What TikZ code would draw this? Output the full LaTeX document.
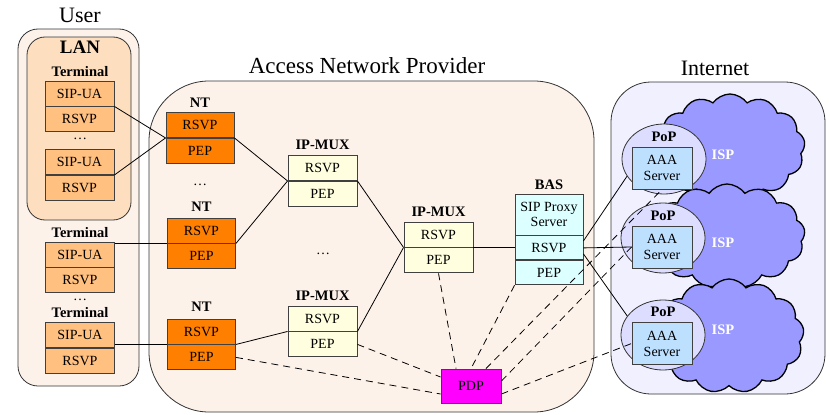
\documentclass[tikz,border=0pt]{standalone}
\usepackage{fontspec}
\setmainfont{Liberation Serif}
\usetikzlibrary{shapes.symbols,shapes.geometric,calc}

\definecolor{framefill}{RGB}{253,242,234}
\definecolor{lanfill}{RGB}{253,223,192}
\definecolor{termfill}{RGB}{255,192,128}
\definecolor{ntfill}{RGB}{255,128,0}
\definecolor{muxfill}{RGB}{255,255,224}
\definecolor{basfill}{RGB}{220,255,255}
\definecolor{pdpfill}{RGB}{255,0,255}
\definecolor{netfill}{RGB}{240,240,255}
\definecolor{ispfill}{RGB}{153,153,255}
\definecolor{popfill}{RGB}{221,221,255}
\definecolor{aaafill}{RGB}{190,224,255}
\definecolor{edge}{RGB}{64,64,64}

\newcommand\cellsize{\fontsize{14}{16}\selectfont}
\newcommand\tagsize{\fontsize{14.5}{16}\selectfont\bfseries}
\newcommand\titlesize{\fontsize{22}{25}\selectfont}

\tikzset{
  frame/.style={draw=black!80, line width=0.8pt, fill=framefill},
  cell/.style={draw=edge, line width=0.9pt, minimum height=25pt, inner sep=0pt, font=\cellsize},
  termcell/.style={cell, fill=termfill, minimum width=69pt},
  ntcell/.style={cell, fill=ntfill, minimum width=68pt},
  muxcell/.style={cell, fill=muxfill, minimum width=69pt},
  bascell/.style={cell, fill=basfill, minimum width=68pt},
  tag/.style={font=\tagsize, inner sep=0pt},
  title/.style={font=\titlesize, inner sep=0pt},
  dots/.style={font=\cellsize, inner sep=0pt},
  isp/.style={cloud, cloud puffs=13, cloud puff arc=110, draw=black, line width=1.3pt, fill=ispfill, inner sep=0pt},
  pop/.style={ellipse, draw=black!80, line width=0.8pt, fill=popfill, minimum width=84pt, minimum height=70pt, inner sep=0pt},
  aaa/.style={cell, fill=aaafill, minimum width=60pt, minimum height=42pt, align=center},
  link/.style={draw=black, line width=0.8pt},
  signal/.style={draw=black, line width=0.8pt, dash pattern=on 7pt off 5pt}
}

\begin{document}
\begin{tikzpicture}[x=1pt,y=-1pt]
\useasboundingbox (0,0) rectangle (830,415);

% ---------- domains ----------
\draw[frame, rounded corners=20pt] (18,29) rectangle (139,386);
\draw[frame, fill=lanfill, rounded corners=18pt] (27,37) rectangle (131,220);
\draw[frame, rounded corners=60pt] (149,81) rectangle (594,412);
\draw[frame, fill=netfill, rounded corners=40pt] (611,82) rectangle (825,394);

\node[title] (usertitle) at (80,15) {User};
\node[title, font=\fontsize{23}{26}\selectfont] (antitle) at (367,66) {Access Network Provider};
\node[title] (nettitle) at (715,68) {Internet};
\node[font=\fontsize{19}{21}\selectfont\bfseries, inner sep=0pt] (lantitle) at (80,47) {LAN};

% ---------- terminals ----------
\node[tag] (term1) at (80,72) {Terminal};
\node[termcell] (su1) at (79.5,93.5) {SIP-UA};
\node[termcell, anchor=north] (rs1) at (su1.south) {RSVP};
\node[dots] (dt1) at (80,139) {\ldots};
\node[termcell] (su1b) at (79.5,162) {SIP-UA};
\node[termcell, anchor=north] (rs1b) at (su1b.south) {RSVP};

\node[tag] (term2) at (80,233) {Terminal};
\node[termcell] (su2) at (80,254.5) {SIP-UA};
\node[termcell, anchor=north] (rs2) at (su2.south) {RSVP};
\node[dots] (dt2) at (80,300) {\ldots};
\node[tag] (term3) at (80,313) {Terminal};
\node[termcell] (su3) at (80,335) {SIP-UA};
\node[termcell, anchor=north] (rs3) at (su3.south) {RSVP};

% ---------- network terminations ----------
\node[tag] (nt1) at (200,103) {NT};
\node[ntcell] (nt1rs) at (200,125) {RSVP};
\node[ntcell, anchor=north] (nt1pe) at (nt1rs.south) {PEP};
\node[dots] (dt3) at (200,185) {\ldots};
\node[tag] (nt2) at (201.5,207) {NT};
\node[ntcell] (nt2rs) at (201.5,230.5) {RSVP};
\node[ntcell, anchor=north] (nt2pe) at (nt2rs.south) {PEP};
\node[tag] (nt3) at (201.5,307) {NT};
\node[ntcell] (nt3rs) at (201.5,331.5) {RSVP};
\node[ntcell, anchor=north] (nt3pe) at (nt3rs.south) {PEP};

% ---------- multiplexers ----------
\node[tag] (mux1) at (322.5,145) {IP-MUX};
\node[muxcell] (mux1rs) at (322.5,168) {RSVP};
\node[muxcell, anchor=north] (mux1pe) at (mux1rs.south) {PEP};
\node[dots] (dt4) at (323,254) {\ldots};
\node[tag] (mux2) at (322.5,296) {IP-MUX};
\node[muxcell] (mux2rs) at (322.5,318.5) {RSVP};
\node[muxcell, anchor=north] (mux2pe) at (mux2rs.south) {PEP};
\node[tag] (mux3) at (438.5,212) {IP-MUX};
\node[muxcell] (mux3rs) at (438.5,234.5) {RSVP};
\node[muxcell, anchor=north] (mux3pe) at (mux3rs.south) {PEP};

% ---------- broadband access server ----------
\node[tag] (bas) at (549,185) {BAS};
\node[bascell, minimum height=41pt, align=center] (bassip) at (549,214.5) {SIP Proxy\\[-1pt]Server};
\node[bascell, anchor=north, minimum height=24pt] (basrs) at (bassip.south) {RSVP};
\node[bascell, anchor=north, minimum height=24pt] (baspe) at (basrs.south) {PEP};

% ---------- policy decision point ----------
\node[cell, fill=pdpfill, minimum width=60pt, minimum height=34pt] (pdp) at (471,386) {PDP};

% ---------- ISPs ----------
\node[isp, minimum width=150pt, minimum height=108pt] (isp1) at (730,148) {};
\node[isp, minimum width=156pt, minimum height=104pt] (isp2) at (727,236) {};
\node[isp, minimum width=150pt, minimum height=114pt] (isp3) at (729,336) {};
\node[tag, text=white] (isp1t) at (723,155) {ISP};
\node[tag, text=white] (isp2t) at (723,243) {ISP};
\node[tag, text=white] (isp3t) at (723,330) {ISP};

\node[pop] (pop1) at (664,159) {};
\node[pop] (pop2) at (663,238) {};
\node[pop] (pop3) at (663,335) {};
\node[tag] (pop1t) at (664,137) {PoP};
\node[tag] (pop2t) at (663,216) {PoP};
\node[tag] (pop3t) at (663,312) {PoP};
\node[aaa] (aaa1) at (662,168) {AAA\\Server};
\node[aaa] (aaa2) at (662,247) {AAA\\Server};
\node[aaa] (aaa3) at (662,343.5) {AAA\\Server};

% ---------- RSVP path ----------
\draw[link] (su1.south east) -- (nt1rs.south west);
\draw[link] (su1b.south east) -- (nt1rs.south west);
\draw[link] (nt2rs.south west -| su2.east) -- (nt2rs.south west);
\draw[link] (nt3rs.south west -| su3.east) -- (nt3rs.south west);
\draw[link] (nt1rs.south east) -- (mux1rs.south west);
\draw[link] (nt2rs.south east) -- (mux1rs.south west);
\draw[link] (nt3rs.south east) -- (mux2rs.south west);
\draw[link] (mux1rs.south east) -- (mux3rs.south west);
\draw[link] (mux2rs.south east) -- (mux3rs.south west);
\draw[link] (mux3rs.south east) -- (mux3rs.south east -| basrs.west);
\draw[link] ([yshift=7pt]basrs.east) -- (pop1.205);
\draw[link] (basrs.east) -- (aaa2.west);
\draw[link] ([yshift=-6pt]basrs.east) -- (pop3.152);

% ---------- policy signalling ----------
\draw[signal] (nt3pe.east) -- ([yshift=-8pt]pdp.west);
\draw[signal] (mux2pe.east) -- ([yshift=9pt]pdp.west);
\draw[signal] (mux3pe.south) -- ([xshift=-15pt]pdp.north);
\draw[signal] (baspe.south west) -- (pdp.north);
\draw[signal] ([xshift=15pt]pdp.north) -- (aaa1.south);
\draw[signal] ([yshift=5pt]pdp.east) -- (aaa2.west);
\draw[signal] ([yshift=-8pt]pdp.east) -- (aaa3.west);
\end{tikzpicture}
\end{document}
